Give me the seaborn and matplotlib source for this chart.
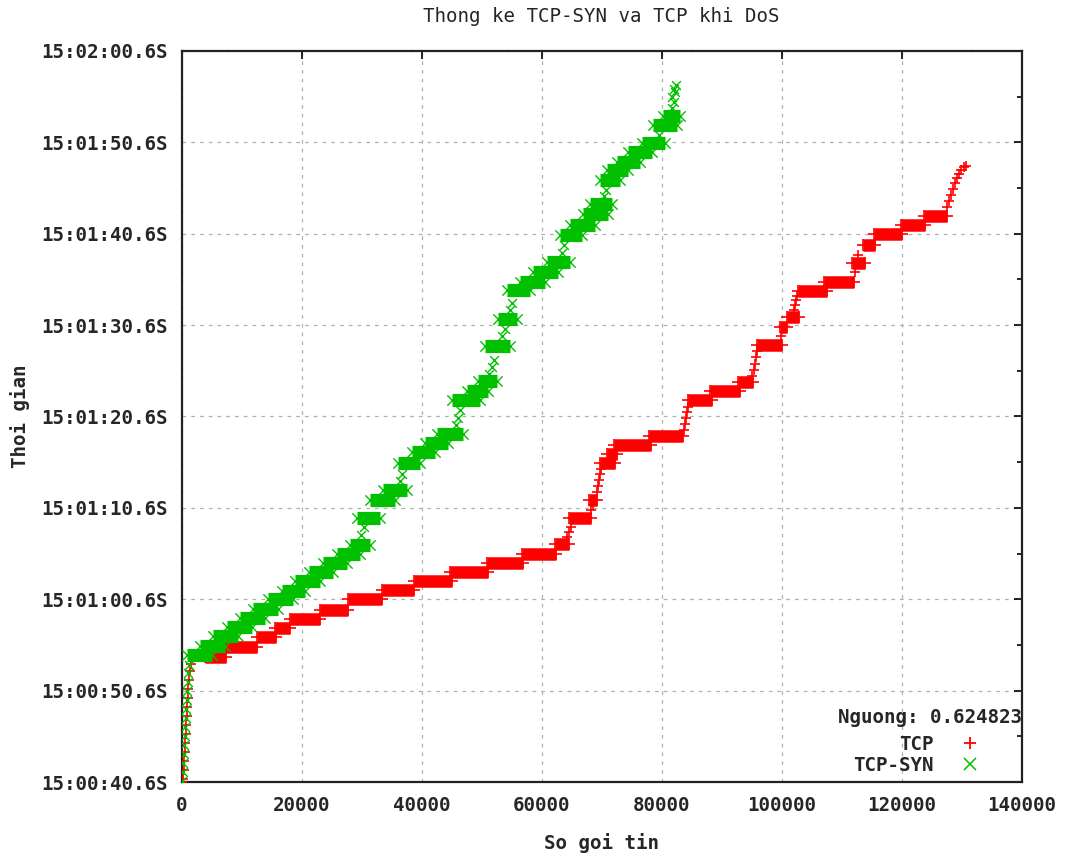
import numpy as np
import pandas as pd
import matplotlib
matplotlib.use("Agg")
import matplotlib.pyplot as plt
import seaborn as sns
from matplotlib.lines import Line2D
from matplotlib.ticker import MultipleLocator, FixedLocator

# ---------------- data (time = seconds after 15:00:40.6) ----------------
# TCP: bursts (many packets in one instant) -> packet range + time
tcp_burst_start = [3833, 7167, 12500, 15500, 18000, 23000, 27667, 33333, 38667, 44667,
                   50833, 56667, 62167, 64500, 67833, 69667, 70833, 72000, 77833, 84333,
                   88000, 92667, 95833, 99667, 100833, 102667, 107000, 111667, 113500, 115333,
                   119833, 123667]
tcp_burst_end = [7333, 12500, 15667, 18000, 23000, 27667, 33333, 38667, 45000, 51000,
                 56833, 62333, 64500, 68167, 69167, 72167, 72500, 78167, 83500, 88333,
                 93000, 95167, 100000, 100833, 102833, 107500, 112000, 113833, 115500, 120000,
                 123833, 127500]
tcp_burst_time = [13.68, 14.77, 15.87, 16.85, 17.84, 18.82, 20.03, 21.01, 22.00, 22.98,
                  23.97, 24.95, 26.05, 28.89, 30.86, 34.91, 35.90, 36.88, 37.87, 41.81,
                  42.79, 43.78, 47.83, 49.80, 50.89, 53.74, 54.72, 56.80, 58.77, 59.97,
                  60.96, 61.94]
# TCP: isolated packets
tcp_point_x = [0, 167, 333, 333, 500, 500, 667, 667, 833, 833, 1000, 1000, 1167, 1333, 1500,
               64167, 64500, 64833,
               68167, 68500, 69167, 69333, 69500, 69667, 69833,
               83667, 83833, 84000, 84167, 84333,
               95000, 95333, 95500, 95667, 95833,
               99833,
               102000, 102167, 102333, 102500,
               112167, 112667,
               127500, 127833, 128167, 128500, 128833, 129167, 129500, 129833, 130333, 130667]
tcp_point_time = [0.0, 0.33, 1.31, 2.30, 3.28, 4.27, 5.25, 6.24, 7.22, 8.21, 9.19, 10.18, 11.16, 12.15, 12.91,
                  26.81, 27.36, 27.91,
                  29.77, 30.31, 31.74, 32.39, 33.05, 33.71, 34.25,
                  38.52, 39.18, 39.84, 40.49, 41.04,
                  44.43, 45.09, 45.75, 46.51, 47.17,
                  48.81,
                  51.66, 52.20, 52.75, 53.19,
                  55.81, 57.67,
                  62.93, 63.58, 64.24, 64.90, 65.55, 66.10, 66.54, 66.98, 67.30, 67.41]

# TCP-SYN: bursts
syn_burst_start = [833, 3000, 5167, 7500, 9667, 11833, 14333, 16667, 18833, 21167,
                   23500, 25833, 28000, 29167, 31333, 33500, 36000, 38333, 40500, 42500,
                   45000, 47500, 49333, 50500, 52667, 54167, 56333, 58500, 60833, 63000,
                   64667, 66833, 68000, 69667, 70833, 72500, 74333, 76667, 78500, 80167]
syn_burst_end = [5000, 7167, 9333, 11667, 13833, 16000, 18500, 20500, 23000, 25167,
                 27500, 29667, 31333, 33000, 35500, 37500, 39667, 42167, 44333, 46833,
                 49667, 51000, 52500, 54667, 55833, 58000, 60500, 62667, 64667, 66667,
                 68833, 71000, 71667, 73000, 74333, 76333, 78333, 80500, 82500, 83000]
syn_burst_time = [13.90, 14.88, 15.98, 16.96, 17.95, 18.93, 20.03, 20.90, 22.00, 22.98,
                  23.97, 24.95, 25.94, 28.89, 30.86, 31.96, 34.91, 36.11, 37.10, 38.08,
                  41.81, 42.79, 43.89, 47.72, 50.67, 53.84, 54.72, 55.81, 56.91, 59.86,
                  60.96, 62.16, 63.26, 65.88, 66.98, 67.85, 68.95, 69.93, 71.90, 72.89]
# TCP-SYN: isolated packets
syn_point_x = [0, 167, 167, 333, 333, 500, 500, 667, 667, 833, 833, 1000, 1000, 1167,
               29833, 30333,
               36333, 36667,
               45667, 46000, 46333,
               51167, 51667, 52000,
               53333, 53833,
               54667, 55000,
               63333, 63667,
               70333, 70667,
               79500,
               81667, 82000, 81667, 82167, 82000, 82333]
syn_point_time = [0.11, 1.09, 2.08, 3.06, 4.05, 5.03, 6.02, 7.00, 7.99, 8.97, 9.96, 10.94, 11.93, 12.80,
                  27.03, 27.91,
                  32.94, 33.71,
                  39.07, 39.84, 40.71,
                  44.65, 45.42, 46.18,
                  48.81, 49.58,
                  51.66, 52.42,
                  57.89, 58.77,
                  64.13, 64.79,
                  70.81,
                  73.76, 74.42, 74.96, 75.51, 75.84, 76.28]

x_ticks = [0, 20000, 40000, 60000, 80000, 100000, 120000, 140000]
y_ticks = [0, 10, 20, 30, 40, 50, 60, 70, 80]
y_tick_labels = ["15:00:40.6S", "15:00:50.6S", "15:01:00.6S", "15:01:10.6S", "15:01:20.6S",
                 "15:01:30.6S", "15:01:40.6S", "15:01:50.6S", "15:02:00.6S"]
threshold_text = "Nguong: 0.624823"

# ---------------- styling ----------------
sns.set_style("white")
plt.rcParams['font.family'] = ['DejaVu Sans Mono', 'DejaVu Sans']
RED = "#ff0000"
GREEN = "#00c000"
FS = 13.8

W, H = 1073, 855
fig = plt.figure(figsize=(W / 100, H / 100), dpi=100)
ax = fig.add_axes([182 / W, (H - 782) / H, 840 / W, 731 / H])

def draw_series(bs, be, bt, px, pt, color, marker, band_lw, s_end, s_pt, mlw, z):
    ax.hlines(bt, bs, be, colors=color, linewidth=band_lw, capstyle='butt', zorder=z)
    ends = pd.DataFrame({"x": list(bs) + list(be), "t": list(bt) + list(bt)})
    pts = pd.DataFrame({"x": list(px), "t": list(pt)})
    sns.scatterplot(data=ends, x="x", y="t", marker=marker, color=color,
                    s=s_end, linewidth=mlw, ax=ax, zorder=z + 0.1, legend=False)
    sns.scatterplot(data=pts, x="x", y="t", marker=marker, color=color,
                    s=s_pt, linewidth=mlw, ax=ax, zorder=z + 0.1, legend=False)

draw_series(tcp_burst_start, tcp_burst_end, tcp_burst_time, tcp_point_x, tcp_point_time,
            RED, "+", 9.0, 70, 60, 1.2, 3)
draw_series(syn_burst_start, syn_burst_end, syn_burst_time, syn_point_x, syn_point_time,
            GREEN, "x", 9.5, 55, 40, 1.0, 4)

ax.set_xlim(0, 140000)
ax.set_ylim(0, 80)
ax.xaxis.set_major_locator(FixedLocator(x_ticks))
ax.set_xticklabels([str(v) for v in x_ticks])
ax.yaxis.set_major_locator(FixedLocator(y_ticks))
ax.set_yticklabels(y_tick_labels)
ax.yaxis.set_minor_locator(MultipleLocator(5))

ax.set_axisbelow(True)
ax.grid(True, which='major', color='#b0b0b0', linestyle=(0, (3, 4)), linewidth=0.9)
ax.tick_params(which='both', direction='in', top=True, right=True, color='black')
ax.tick_params(which='major', length=6, width=1.2, pad=10, labelsize=FS)
ax.tick_params(which='minor', length=3.5, width=1.2)
for lab in ax.get_xticklabels() + ax.get_yticklabels():
    lab.set_fontweight('bold')
for sp in ax.spines.values():
    sp.set_color('#222222')
    sp.set_linewidth(1.6)

ax.set_xlabel("So goi tin", fontsize=FS, fontweight='bold', labelpad=13)
ax.set_ylabel("Thoi gian", fontsize=FS, fontweight='bold', labelpad=8)
fig.text(601 / W, 1 - 17 / H, "Thong ke TCP-SYN va TCP khi DoS", ha='center', va='center',
         fontsize=FS)

handles = [Line2D([], [], marker='+', color=RED, linestyle='none', markersize=9, markeredgewidth=1.3),
           Line2D([], [], marker='x', color=GREEN, linestyle='none', markersize=8, markeredgewidth=1.1)]
leg = ax.legend(handles, ["TCP", "TCP-SYN"], loc='lower right', markerfirst=False, frameon=False,
                bbox_to_anchor=((989 - 182) / 840, (782 - 775) / 731), borderaxespad=0, borderpad=0,
                handlelength=2.0, handletextpad=0.9, labelspacing=0.12,
                prop={'family': 'DejaVu Sans Mono', 'weight': 'bold', 'size': FS})
ax.text(1.0, (782 - 717) / 731, threshold_text, transform=ax.transAxes, ha='right', va='center',
        fontsize=FS, fontweight='bold')

fig.savefig("out.png", dpi=100)
